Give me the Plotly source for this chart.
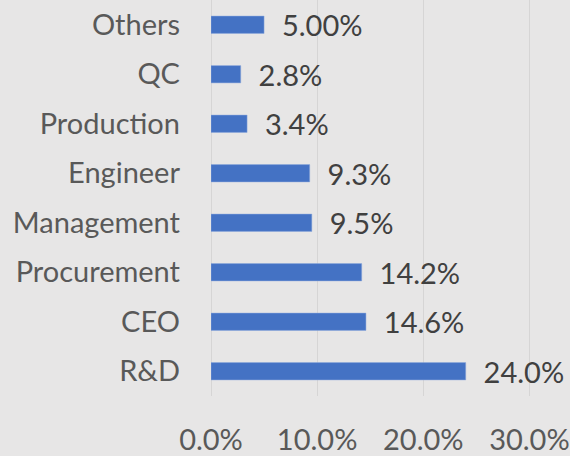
import plotly.graph_objects as go

categories = ["R&D", "CEO", "Procurement", "Management", "Engineer", "Production", "QC", "Others"]
values = [24.0, 14.6, 14.2, 9.5, 9.3, 3.4, 2.8, 5.0]
labels = ["24.0%", "14.6%", "14.2%", "9.5%", "9.3%", "3.4%", "2.8%", "5.00%"]
tick_vals = [0, 10, 20, 30]
tick_text = ["0.0%", "10.0%", "20.0%", "30.0%"]

FONT = "Lato, 'Open Sans', sans-serif"

fig = go.Figure(go.Bar(
    x=values, y=categories, orientation="h",
    marker=dict(color="#4472C4", line=dict(color="#8FAADC", width=0.5)),
    width=0.35,
    text=["  " + t for t in labels], textposition="outside",
    constraintext="none",
    textfont=dict(family=FONT, size=29, color="#404040"),
    cliponaxis=False,
))

fig.update_layout(
    width=570, height=456,
    margin=dict(l=211, r=37, t=0, b=57),
    paper_bgcolor="#E7E6E6", plot_bgcolor="#E7E6E6",
    showlegend=False,
    font=dict(family=FONT, size=29, color="#595959"),
    xaxis=dict(range=[0, 30.15], tickvals=tick_vals, ticktext=tick_text,
               showgrid=True, gridcolor="#D6D5D5", gridwidth=1,
               zeroline=True, zerolinecolor="#D6D5D5", zerolinewidth=1,
               showline=False, ticks="", ticklabelstandoff=24,
               ticklabeloverflow="allow",
               tickfont=dict(family=FONT, size=29, color="#595959")),
    yaxis=dict(categoryorder="array", categoryarray=categories,
               showgrid=False, zeroline=False, showline=False, ticks="",
               ticklabelstandoff=30,
               tickfont=dict(family=FONT, size=29, color="#595959")),
)

fig.write_html("out.html")
